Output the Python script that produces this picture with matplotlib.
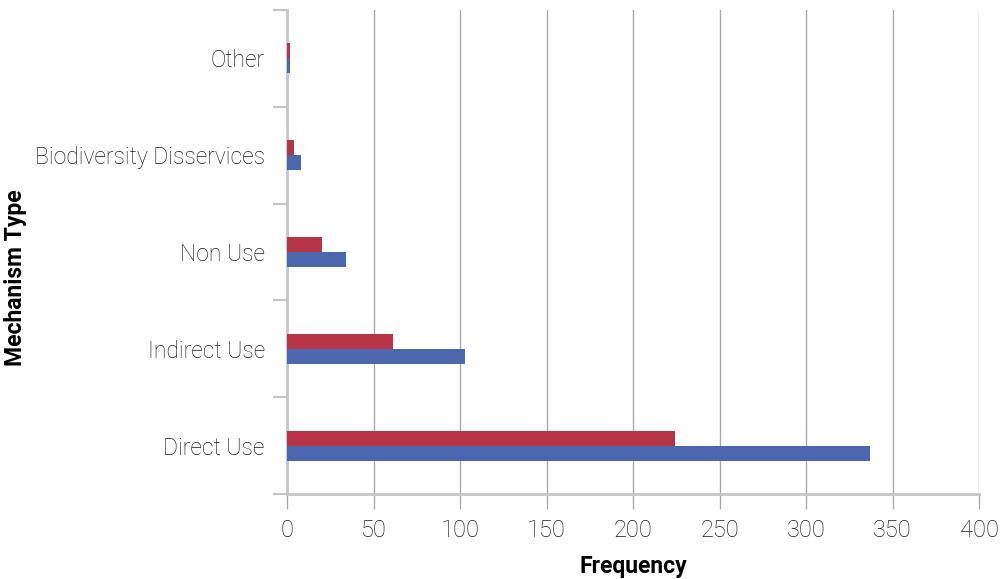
import matplotlib
matplotlib.use("Agg")
import matplotlib.pyplot as plt
import numpy as np

categories = ["Direct Use", "Indirect Use", "Non Use", "Biodiversity Disservices", "Other"]
series_red = [224, 61, 20, 4, 2]
series_blue = [337, 103, 34, 8, 2]
x_ticks = [0, 50, 100, 150, 200, 250, 300, 350, 400]

RED = "#B73446"
BLUE = "#4A67B0"
GRID = "#ABABAB"
SPINE = "#C6C6C6"
TEXT = "#1A1A1A"

plt.rcParams["font.family"] = ["Roboto", "DejaVu Sans"]

fig = plt.figure(figsize=(10.06, 5.79), dpi=100)
ax = fig.add_axes([0.2853, 0.1468, 0.6879, 0.8359])

y = np.arange(len(categories))
h = 0.155
ax.barh(y + h / 2, series_red, height=h, color=RED, zorder=3)
ax.barh(y - h / 2, series_blue, height=h, color=BLUE, zorder=3)

ax.set_xlim(0, 400)
ax.set_ylim(-0.5, len(categories) - 0.5)

# vertical grid lines with ticks hanging below the axis
ax.set_xticks(x_ticks)
ax.set_xticklabels([str(v) for v in x_ticks], fontsize=17, fontweight="light", color=TEXT)
ax.xaxis.grid(True, color=GRID, linewidth=1.0, zorder=0)
ax.tick_params(axis="x", length=11, width=1.0, color=GRID, pad=7)

# category labels centered in bands, ticks at band boundaries
ax.set_yticks(np.arange(len(categories) + 1) - 0.5)
ax.set_yticklabels([])
ax.set_yticks(y, minor=True)
ax.set_yticklabels(categories, minor=True, fontsize=16.5, fontweight="light", color=TEXT)
ax.tick_params(axis="y", which="major", length=10, width=1.5, color=SPINE)
ax.tick_params(axis="y", which="minor", length=0, pad=16)

for s in ["top", "right"]:
    ax.spines[s].set_visible(False)
ax.spines["left"].set_color(SPINE)
ax.spines["left"].set_linewidth(2.0)
ax.spines["bottom"].set_color(SPINE)
ax.spines["bottom"].set_linewidth(2.0)

ax.set_xlabel("Frequency", fontsize=16.5, fontweight="bold", color="black")
ax.xaxis.set_label_coords(0.5, -0.126)
ax.set_ylabel("Mechanism Type", fontsize=16.5, fontweight="bold", color="black")
ax.yaxis.set_label_coords(-0.376, 0.446)

fig.savefig("out.png", dpi=100)
